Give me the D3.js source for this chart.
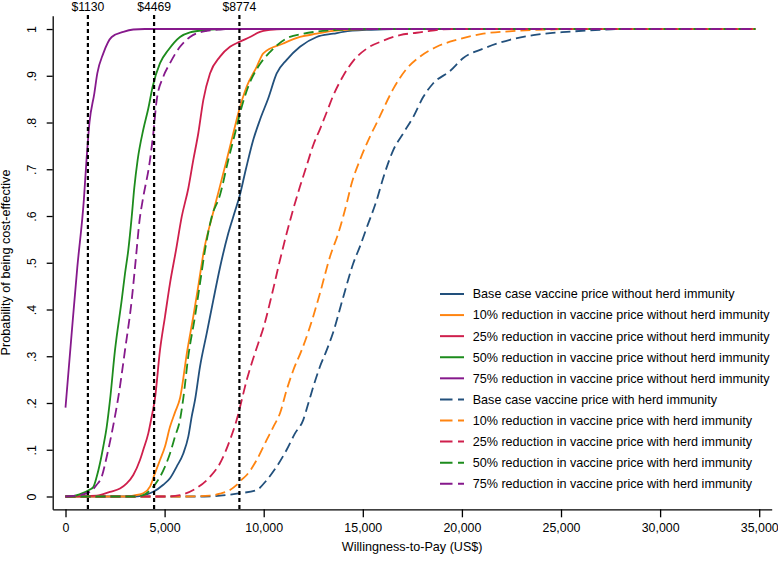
<!DOCTYPE html>
<html>
<head>
<meta charset="utf-8">
<script src="https://cdn.jsdelivr.net/npm/d3@7"></script>
<style>
  body { margin: 0; background: #fff; }
  svg { display: block; font-family: "Liberation Sans", Arial, Helvetica, sans-serif; }
</style>
</head>
<body>
<svg id="chart" width="778" height="563"></svg>
<script>
// ---- Data (willingness-to-pay in US$, probability cost-effective) ----
const baseNoHerd = [[0,0],[3500,0],[4000,0.003],[4430,0.01],[4934,0.025],[5272,0.039],[5610,0.064],[5943,0.092],[6195,0.128],[6367,0.171],[6533,0.206],[6786,0.278],[7124,0.349],[7457,0.42],[7795,0.49],[8213,0.563],[8550,0.61],[8768,0.64],[9100,0.70],[9474,0.763],[9812,0.806],[10231,0.852],[10655,0.905],[11159,0.934],[11830,0.962],[12673,0.983],[13511,0.99],[14353,0.996],[15195,0.998],[16500,1],[34800,1]];
const tenNoHerd = [[0,0],[3000,0],[3420,0.002],[3925,0.007],[4263,0.021],[4515,0.05],[4768,0.078],[5020,0.107],[5272,0.149],[5524,0.18],[5777,0.21],[6147,0.313],[6448,0.385],[6720,0.456],[6987,0.527],[7391,0.598],[7709,0.65],[8132,0.72],[8466,0.777],[8718,0.82],[9142,0.877],[9646,0.919],[9979,0.948],[10988,0.969],[11830,0.983],[12673,0.99],[13511,0.996],[14353,0.999],[15500,1],[34800,1]];
const twentyFiveNoHerd = [[0,0],[1574,0.002],[2245,0.01],[2750,0.017],[3088,0.028],[3420,0.046],[3758,0.078],[3925,0.1],[4177,0.135],[4349,0.171],[4515,0.21],[4767,0.313],[5020,0.385],[5272,0.456],[5575,0.527],[5862,0.598],[6200,0.66],[6448,0.72],[6700,0.777],[6952,0.848],[7290,0.905],[7795,0.941],[8299,0.962],[8804,0.973],[9308,0.983],[9812,0.994],[10317,0.998],[11000,1],[34800,1]];
const fiftyNoHerd = [[0,0],[400,0.001],[732,0.005],[1236,0.015],[1403,0.02],[1574,0.042],[1740,0.071],[1907,0.107],[2079,0.149],[2245,0.206],[2497,0.313],[2835,0.42],[3002,0.477],[3168,0.527],[3340,0.598],[3470,0.66],[3640,0.72],[3925,0.785],[4177,0.83],[4399,0.877],[4768,0.927],[5186,0.955],[5777,0.983],[6281,0.993],[7124,0.998],[8000,1],[34800,1]];
const seventyFiveNoHerd = [[0,0.19],[313,0.35],[595,0.49],[925,0.634],[1060,0.72],[1210,0.8],[1453,0.862],[1604,0.905],[1907,0.948],[2331,0.983],[2916,0.994],[3420,0.999],[4000,1],[34800,1]];
const baseHerd = [[0,0],[7000,0],[8299,0.004],[8804,0.007],[9646,0.014],[10150,0.035],[10655,0.064],[11159,0.1],[11578,0.135],[11997,0.164],[12249,0.199],[12502,0.235],[12840,0.278],[13178,0.313],[13511,0.352],[14015,0.427],[14520,0.499],[14858,0.535],[15196,0.575],[15700,0.634],[16033,0.682],[16537,0.741],[17042,0.777],[17546,0.812],[18053,0.855],[18555,0.884],[19398,0.91],[20069,0.938],[21078,0.958],[22425,0.977],[23601,0.987],[25286,0.994],[26967,0.998],[27809,1],[34800,1]];
const tenHerd = [[0,0],[6000,0],[7290,0.002],[7795,0.006],[8299,0.014],[8637,0.025],[8889,0.036],[9142,0.046],[9646,0.078],[10150,0.121],[10486,0.149],[10822,0.178],[11159,0.228],[11492,0.27],[11916,0.313],[12249,0.352],[12840,0.435],[13344,0.513],[13763,0.563],[14187,0.627],[14439,0.67],[14858,0.72],[15362,0.77],[15781,0.806],[16100,0.835],[16537,0.872],[17214,0.915],[17885,0.941],[18726,0.962],[19736,0.977],[21078,0.99],[22763,0.996],[24443,0.999],[25500,1],[34800,1]];
const twentyFiveHerd = [[0,0],[5000,0],[5777,0.003],[6448,0.014],[7290,0.042],[7795,0.071],[8299,0.121],[8637,0.164],[8889,0.206],[9142,0.249],[9394,0.285],[9727,0.328],[9979,0.36],[10402,0.43],[10822,0.506],[11159,0.563],[11492,0.615],[11830,0.663],[12169,0.708],[12502,0.752],[12840,0.786],[13178,0.822],[13511,0.858],[14015,0.9],[14520,0.932],[15196,0.958],[16033,0.975],[16876,0.987],[17718,0.992],[18221,0.995],[19500,1],[34800,1]];
const fiftyHerd = [[0,0],[3500,0],[3925,0.003],[4430,0.021],[4768,0.042],[5020,0.064],[5272,0.092],[5524,0.128],[5777,0.164],[5943,0.21],[6195,0.3],[6533,0.385],[6786,0.456],[7038,0.527],[7376,0.598],[7795,0.645],[8213,0.72],[8637,0.791],[8804,0.82],[9222,0.877],[9812,0.925],[10300,0.95],[11159,0.98],[12000,0.99],[13000,0.996],[14000,0.999],[15000,1],[34800,1]];
const seventyFiveHerd = [[0,0],[700,0.003],[1236,0.01],[1574,0.025],[1826,0.042],[2079,0.085],[2331,0.135],[2583,0.192],[2667,0.213],[3002,0.313],[3340,0.42],[3506,0.49],[3758,0.598],[3895,0.634],[4263,0.72],[4430,0.777],[4601,0.848],[4934,0.898],[5272,0.927],[5777,0.962],[6281,0.983],[7124,0.996],[7800,0.999],[8500,1],[34800,1]];

const seriesNames = [
  "Base case vaccine price without herd immunity",
  "10% reduction in vaccine price without herd immunity",
  "25% reduction in vaccine price without herd immunity",
  "50% reduction in vaccine price without herd immunity",
  "75% reduction in vaccine price without herd immunity",
  "Base case vaccine price with herd immunity",
  "10% reduction in vaccine price with herd immunity",
  "25% reduction in vaccine price with herd immunity",
  "50% reduction in vaccine price with herd immunity",
  "75% reduction in vaccine price with herd immunity"
];
const seriesValues = [baseNoHerd, tenNoHerd, twentyFiveNoHerd, fiftyNoHerd, seventyFiveNoHerd,
                      baseHerd, tenHerd, twentyFiveHerd, fiftyHerd, seventyFiveHerd];
const seriesDashed = [false, false, false, false, false, true, true, true, true, true];

const thresholds = [1130, 4469, 8774];
const thresholdLabels = ["$1130", "$4469", "$8774"];

const xTickValues = [0, 5000, 10000, 15000, 20000, 25000, 30000, 35000];
const xTickLabels = ["0", "5,000", "10,000", "15,000", "20,000", "25,000", "30,000", "35,000"];
const yTickValues = [0, 0.1, 0.2, 0.3, 0.4, 0.5, 0.6, 0.7, 0.8, 0.9, 1];
const yTickLabels = ["0", ".1", ".2", ".3", ".4", ".5", ".6", ".7", ".8", ".9", "1"];

const xTitle = "Willingness-to-Pay (US$)";
const yTitle = "Probability of being cost-effective";

// ---- Styles ----
const palette = ["#22507c", "#ff8410", "#cf1f4c", "#1d8c1d", "#86198c"];
const colorOf = i => palette[i % 5];
const FONT = "Liberation Sans, Arial, sans-serif";

// ---- Layout ----
const svg = d3.select("#chart");
const plotLeft = 52.7, plotRight = 771.7, plotTop = 15.7, plotBottom = 509.3;

const x = d3.scaleLinear().domain([-646, 35630]).range([plotLeft, plotRight]);
const y = d3.scaleLinear().domain([-0.0274, 1.0285]).range([plotBottom, plotTop]);

// curves
const line = d3.line().x(d => x(d[0])).y(d => y(d[1])).curve(d3.curveMonotoneX);
const curves = svg.append("g");
seriesValues.forEach((vals, i) => {
  curves.append("path")
    .datum(vals)
    .attr("d", line)
    .attr("fill", "none")
    .attr("stroke", colorOf(i))
    .attr("stroke-width", 1.8)
    .attr("stroke-linejoin", "round")
    .attr("stroke-dasharray", seriesDashed[i] ? "10,5" : null);
});

// threshold lines
const thr = svg.append("g");
thresholds.forEach((t, i) => {
  thr.append("line")
    .attr("x1", x(t)).attr("x2", x(t))
    .attr("y1", 15).attr("y2", plotBottom)
    .attr("stroke", "#000")
    .attr("stroke-width", 2.2)
    .attr("stroke-dasharray", "4,3");
  thr.append("text")
    .attr("x", x(t)).attr("y", 11)
    .attr("text-anchor", "middle")
    .attr("font-size", 12.2)
    .attr("fill", "#000")
    .text(thresholdLabels[i]);
});

// axes
const xAxis = d3.axisBottom(x)
  .tickValues(xTickValues)
  .tickFormat((d, i) => xTickLabels[i])
  .tickSize(8)
  .tickSizeOuter(0);
const gx = svg.append("g").attr("transform", `translate(0,${plotBottom})`).call(xAxis);
gx.select(".domain").attr("stroke", "#000").attr("stroke-width", 1.3);
gx.selectAll(".tick line").attr("stroke", "#000").attr("stroke-width", 1.3);
gx.selectAll(".tick text").attr("y", 14.3).attr("font-size", 12.4).attr("fill", "#000")
  .attr("font-family", FONT);

const yAxis = d3.axisLeft(y)
  .tickValues(yTickValues)
  .tickFormat((d, i) => yTickLabels[i])
  .tickSize(6)
  .tickSizeOuter(0);
const gy = svg.append("g").attr("transform", `translate(${plotLeft},0)`).call(yAxis);
gy.select(".domain").attr("stroke", "#000").attr("stroke-width", 1.3);
gy.selectAll(".tick line").attr("stroke", "#000").attr("stroke-width", 1.3);
gy.selectAll(".tick text")
  .attr("transform", "rotate(-90)")
  .attr("x", 0).attr("y", -21).attr("dy", "0.35em")
  .attr("text-anchor", "middle")
  .attr("font-size", 12.4).attr("fill", "#000")
  .attr("font-family", FONT);

// titles
svg.append("text")
  .attr("x", (plotLeft + plotRight) / 2).attr("y", 551)
  .attr("text-anchor", "middle").attr("font-size", 12.6).attr("fill", "#000")
  .text(xTitle);
svg.append("text")
  .attr("transform", `translate(10,${(plotTop + plotBottom) / 2}) rotate(-90)`)
  .attr("text-anchor", "middle").attr("font-size", 12.7).attr("fill", "#000")
  .text(yTitle);

// legend
const lg = svg.append("g");
seriesNames.forEach((name, i) => {
  const ly = 294 + i * 21.08;
  lg.append("line")
    .attr("x1", 440).attr("x2", 464)
    .attr("y1", ly).attr("y2", ly)
    .attr("stroke", colorOf(i))
    .attr("stroke-width", 2)
    .attr("stroke-dasharray", seriesDashed[i] ? "12.5,5.5" : null);
  lg.append("text")
    .attr("x", 472.7).attr("y", ly).attr("dy", "0.35em")
    .attr("font-size", 12.6).attr("fill", "#000")
    .text(name);
});
</script>
</body>
</html>
